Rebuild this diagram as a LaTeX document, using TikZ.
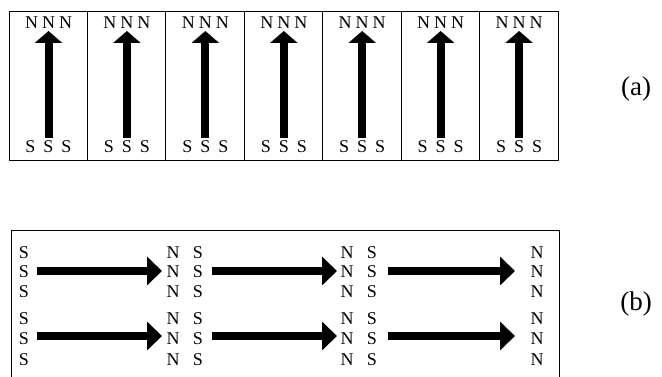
\documentclass[tikz,border=0pt]{standalone}
\usepackage{fontspec}
\setmainfont{Liberation Serif}
\usetikzlibrary{arrows.meta}
\begin{document}
\begin{tikzpicture}[x=1pt,y=-1pt,
  pole/.style={inner sep=0pt, font=\fontsize{18}{18}\selectfont},
  frame/.style={draw=black, line width=0.9pt},
  vbar/.style={line width=8pt, -{Triangle[length=12pt,width=27pt]}},
  hbar/.style={line width=8pt, -{Triangle[length=15pt,width=28pt]}},
  tag/.style={inner sep=0pt, font=\fontsize{27}{27}\selectfont}]
\useasboundingbox (0,0) rectangle (662,377);
% ---------- panel (a) ----------
\draw[frame] (9,11) rectangle (558,160);
\foreach \i in {1,...,6}{
  \pgfmathsetmacro\dx{9+78.43*\i}
  \draw[frame] (\dx,11) -- (\dx,160);
}
\foreach \i in {0,...,6}{
  \pgfmathsetmacro\cx{48.5+78.43*\i}
  \node[pole] (an\i a) at (\cx-17,23) {N};
  \node[pole] (an\i b) at (\cx,23) {N};
  \node[pole] (an\i c) at (\cx+17,23) {N};
  \node[pole] (as\i a) at (\cx-18,147) {S};
  \node[pole] (as\i b) at (\cx,147) {S};
  \node[pole] (as\i c) at (\cx+18,147) {S};
  \coordinate (at\i) at (\cx,31);
  \coordinate (ab\i) at (\cx,138);
  \draw[vbar] (ab\i) -- (at\i);
}
\node[tag] (taga) at (636,89) {(a)};
% ---------- panel (b) ----------
\draw[frame] (11,378) -- (11,230) -- (559,230) -- (559,378);
\foreach \y [count=\k] in {253,272,292,319,339,360}{
  \node[pole] (bs0\k) at (24,\y) {S};
  \node[pole] (bn1\k) at (173,\y) {N};
  \node[pole] (bs1\k) at (198,\y) {S};
  \node[pole] (bn2\k) at (347,\y) {N};
  \node[pole] (bs2\k) at (372,\y) {S};
  \node[pole] (bn3\k) at (537,\y) {N};
}
\foreach \y [count=\r] in {271,336}{
  \coordinate (p\r a) at (37,\y);  \coordinate (q\r a) at (162,\y);
  \coordinate (p\r b) at (212,\y); \coordinate (q\r b) at (337,\y);
  \coordinate (p\r c) at (388,\y); \coordinate (q\r c) at (515,\y);
  \draw[hbar] (p\r a) -- (q\r a);
  \draw[hbar] (p\r b) -- (q\r b);
  \draw[hbar] (p\r c) -- (q\r c);
}
\node[tag] (tagb) at (636,304) {(b)};
\end{tikzpicture}
\end{document}
